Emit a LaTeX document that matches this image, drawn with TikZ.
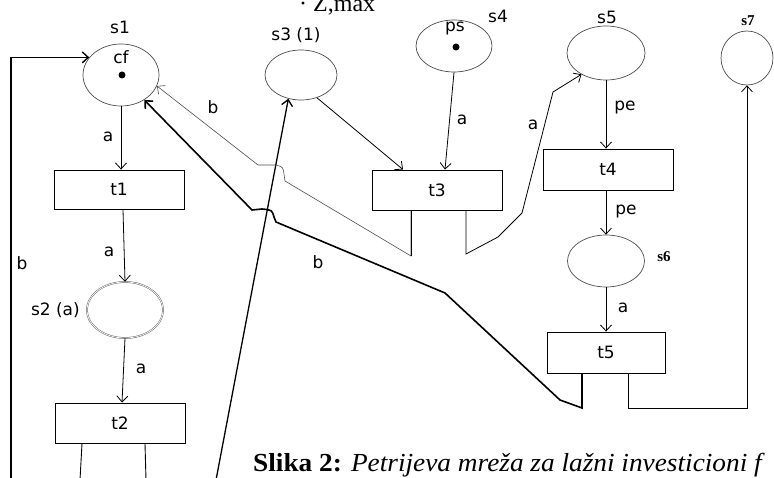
\documentclass[tikz,border=0pt]{standalone}
\usepackage{fontspec}
\setmainfont{DejaVu Sans}
\newfontfamily\capfont{Liberation Serif}
\usetikzlibrary{shapes.geometric,arrows.meta}

\begin{document}
\begin{tikzpicture}[x=1pt,y=-1pt,
  place/.style={ellipse, draw=black!70, line width=0.7pt, inner sep=0pt},
  trans/.style={rectangle, draw, line width=0.9pt, inner sep=0pt,
                font=\fontsize{17}{17}\selectfont},
  arcline/.style={line width=0.8pt, -{Straight Barb[length=6pt,width=11pt]}},
  legline/.style={line width=0.9pt},
  lbl/.style={font=\fontsize{17}{17}\selectfont, inner sep=0pt},
  slbl/.style={font=\capfont\bfseries\fontsize{15}{15}\selectfont, inner sep=0pt},
  tok/.style={circle, fill=black, minimum size=7pt, inner sep=0pt}
]
\useasboundingbox (0,0) rectangle (774,478);

% cut-off formula line above the net
\node[anchor=base west, inner sep=0pt, font=\capfont\fontsize{24}{24}\selectfont]
  (frag) at (299,12) {· Z,max};

% places
\node[place, minimum width=76pt, minimum height=62pt] (s1) at (121,75) {};
\node[place, minimum width=76pt, minimum height=56pt,
      double=white, double distance=0.7pt, draw=black!60, line width=0.5pt] (s2) at (125,310) {};
\node[place, minimum width=72pt, minimum height=50pt] (s3) at (301,75) {};
\node[place, minimum width=76pt, minimum height=52pt] (s4) at (454,46) {};
\node[place, minimum width=78pt, minimum height=54pt] (s5) at (606,53) {};
\node[place, minimum width=77pt, minimum height=52pt] (s6) at (606,261) {};
\node[place, minimum width=52pt, minimum height=54pt] (s7) at (747,58) {};

% tokens and place texts
\node[tok] (k1) at (122,75) {};
\node[tok] (k4) at (456,47) {};
\node[lbl] (cf) at (121,57) {cf};
\node[lbl] (ps) at (455,29) {ps};

\node[lbl] (l1) at (120,27) {s1};
\node[lbl, anchor=east] (l2) at (80,310) {s2 (a)};
\node[lbl] (l3) at (296,35) {s3 (1)};
\node[lbl] (l4) at (498,16) {s4};
\node[lbl] (l5) at (607,17) {s5};
\node[slbl] (l6) at (664,257) {s6};
\node[slbl] (l7) at (748,21) {s7};

% transitions
\node[trans, minimum width=130pt, minimum height=39pt] (t1) at (119,189.5) {t1};
\node[trans, minimum width=130pt, minimum height=40pt] (t2) at (120,423) {t2};
\node[trans, minimum width=130pt, minimum height=40pt] (t3) at (437,190) {t3};
\node[trans, minimum width=130pt, minimum height=41pt] (t4) at (608,169.5) {t4};
\node[trans, minimum width=118pt, minimum height=41pt] (t5) at (606,352.5) {t5};

% free ends and bends
\coordinate (bl0) at (11,480);
\coordinate (t2a) at (80,480);
\coordinate (t2b) at (146,480);
\coordinate (lo) at (216,480);

% main chain on the left
\draw[arcline] (s1.south) -- (s1.south |- t1.north);
\draw[arcline] ([xshift=4pt]t1.south) -- (s2.north);
\draw[arcline] (s2.south) -- ([xshift=2pt]t2.north);
\draw[legline] ([xshift=-38pt]t2.south) -- (t2a);
\draw[legline] ([xshift=25pt]t2.south) -- (t2b);
\node[lbl] (la1) at (108,137) {a};
\node[lbl] (la2) at (109,252) {a};
\node[lbl] (la3) at (141,369) {a};

% return arc b along the left edge
\draw[arcline, line width=1.4pt] (bl0) -- (bl0 |- s1.151) -- (s1.151);
\node[lbl] (lb1) at (22,263) {b};

% long arc up to s3
\draw[arcline, line width=1.3pt] (lo) -- (s3.242);

% into t3
\draw[arcline] (s3.-55) -- ([xshift=-34pt]t3.north);
\draw[arcline] (s4.south) -- ([xshift=8pt]t3.north);
\node[lbl] (la4) at (462,120) {a};

% t3 outputs
\draw[arcline, draw=black!70, line width=0.6pt]
  ([xshift=-26pt]t3.south) -- (411,256) -- (285,181) -- (284,174)
  .. controls (283,167) .. (276,165) -- (258,165) -- (s1.-17);
\node[lbl] (lb2) at (213,107) {b};
\draw[legline] ([xshift=-26pt]t3.south) -- (411,256);
\draw[arcline] ([xshift=29pt]t3.south) -- (466,254) -- (498,237)
  -- (522,213) -- (553,92) -- (s5.-139);
\node[lbl] (la5) at (533,125) {a};

% right chain
\draw[arcline] (s5.south) -- (s5.south |- t4.north);
\node[lbl] (lpe1) at (625,108) {pe};
\draw[arcline] (s6.north |- t4.south) -- (s6.north);
\node[lbl] (lpe2) at (626,212) {pe};
\draw[arcline] (s6.south) -- (s6.south |- t5.north);
\node[lbl] (la6) at (623,308) {a};

% t5 outputs
\draw[arcline, line width=1.6pt] ([xshift=-24pt]t5.south) -- (582,408) -- (560,400)
  -- (445,293) -- (276,222) -- (274,217)
  .. controls (272,210) .. (262,209) -- (252,210) -- (s1.-47);
\node[lbl] (lb3) at (318,262) {b};
\draw[arcline] ([xshift=22pt]t5.south) -- ++(0,35) -| (s7.south);

% caption
\node[anchor=base west, inner sep=0pt, font=\capfont\fontsize{26}{26}\selectfont]
  (cap) at (253,471) {\scalebox{1.05}[1]{\textbf{Slika 2:} \textit{Petrijeva mreža za lažni investicioni f}}};
\end{tikzpicture}
\end{document}
